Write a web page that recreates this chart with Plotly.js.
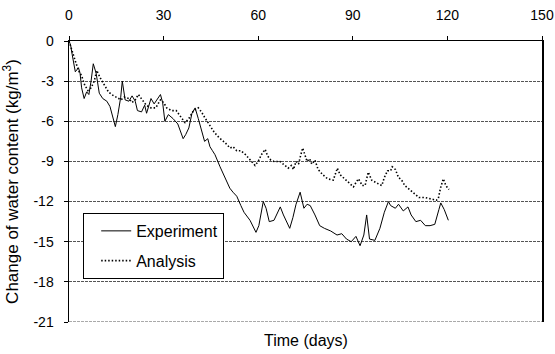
<!DOCTYPE html>
<html>
<head>
<meta charset="utf-8">
<script src="https://cdn.plot.ly/plotly-3.0.1.min.js"></script>
<style>html,body{margin:0;padding:0;background:#fff;}#chart{width:555px;height:354px;}</style>
</head>
<body>
<div id="chart"></div>
<script>
// Experiment (days, kg/m3)
var expDays = [0,0.5,1,2,3,3.5,4,4.8,5.6,6.3,7,7.7,8.6,9.6,10.7,12,13,14,14.7,15.5,16.4,16.9,17.8,19,20,21,21.7,23,24,24.6,26,27,28,29,29.7,30.4,31.5,33,34.5,36.2,37,38,39,40,41,42,43,44,44.7,45.5,46.3,47.9,49.5,51,52,53.2,54.5,55.5,57.4,58.5,59.3,60.2,61,61.6,62.5,63.5,65,65.9,67,68,69,70,71,72,73.3,74.5,75.5,76.5,78,79.5,81,83,85,86.5,88,89.5,91,92.3,93.5,94.4,95.3,97,98.6,100,101.3,102,103.5,104.5,106,107.5,108.5,110,111.5,113,114.5,116,117.3,117.9,119,120.3];
var expVals = [0,-0.3,-1.0,-2.3,-2.0,-2.4,-3.5,-4.3,-3.8,-4.0,-3.0,-1.7,-2.4,-3.9,-4.3,-4.5,-4.9,-5.8,-6.4,-5.5,-4.2,-3.0,-4.4,-4.5,-4.1,-4.5,-5.2,-5.3,-4.8,-5.4,-4.3,-4.7,-4.3,-4.0,-4.6,-6.0,-5.5,-5.8,-6.2,-7.3,-7.0,-6.5,-5.4,-5.0,-5.8,-6.7,-7.5,-7.3,-7.9,-8.2,-8.5,-9.4,-10.2,-11.0,-11.3,-11.6,-12.3,-12.8,-13.4,-14.0,-14.3,-13.8,-12.7,-12.0,-12.5,-13.5,-13.4,-13.0,-12.4,-13.0,-13.5,-14.0,-13.2,-12.2,-11.3,-12.5,-12.2,-12.3,-13.0,-13.8,-14.0,-14.2,-14.5,-14.4,-14.8,-15.0,-14.6,-15.3,-14.5,-13.0,-14.8,-14.9,-14.0,-12.8,-12.0,-12.3,-12.5,-12.2,-12.7,-12.4,-13.0,-13.5,-13.4,-13.8,-13.8,-13.7,-12.6,-12.1,-12.6,-13.4];
// Analysis (days, kg/m3)
var anaDays = [0,1,2,3,4,5,6,7,8,8.8,10,11.5,12.5,13.5,15,16.5,17.5,19,20,21,22,23,24.5,26,27.5,29,30,31,32.5,34,35,36.8,38,39.5,41,42,43,44.5,46,47.5,49.5,51.1,52,53.2,54.5,56,57.5,59,60,61,62.2,63,64,65,66.9,68,69.5,70.5,71.2,72,72.8,73.3,74.1,74.8,75.5,76.3,77,78,79,80.5,82,83.8,85.1,86,87.5,89,90.2,91.2,91.8,93,93.9,94.9,96,97.5,99.2,100,101,102,102.5,103.5,104.5,105.5,106.5,108,109.5,111,113,115,116.5,117.1,117.8,118.7,119.5,120.5];
var anaVals = [0,-0.8,-1.5,-2.2,-2.6,-3.3,-3.7,-3.5,-3.0,-2.2,-2.8,-3.4,-3.8,-4.0,-4.2,-4.4,-4.2,-4.3,-4.6,-4.4,-4.0,-4.3,-4.8,-5.0,-5.0,-4.4,-4.6,-5.0,-5.2,-5.2,-5.5,-6.1,-5.8,-5.2,-5.0,-5.3,-5.7,-6.3,-6.8,-7.2,-7.6,-8.0,-7.9,-8.2,-8.2,-8.5,-8.9,-9.3,-9.0,-8.5,-8.1,-8.6,-8.9,-9.0,-9.0,-9.2,-9.5,-9.3,-9.6,-9.0,-9.2,-8.7,-8.0,-8.5,-9.0,-8.8,-9.2,-8.9,-9.6,-10.0,-10.3,-10.4,-9.5,-10.0,-10.3,-10.6,-10.9,-10.5,-10.3,-10.8,-10.8,-9.8,-10.4,-10.6,-10.8,-10.2,-9.7,-9.7,-9.4,-9.6,-10.2,-10.4,-10.8,-11.1,-11.4,-11.7,-11.7,-11.8,-11.9,-11.8,-11.0,-10.3,-10.8,-11.1];
var xTicks = [0,30,60,90,120,150];
var yTicks = [0,-3,-6,-9,-12,-15,-18,-21];

var FONT = 'Liberation Sans, Arial, sans-serif';
var traces = [
  {x: expDays, y: expVals, name: 'Experiment', type: 'scatter', mode: 'lines', legendgroup: 'a',
   line: {color: '#000', width: 1}},
  {x: anaDays, y: anaVals, name: 'Analysis', type: 'scatter', mode: 'lines', legendgroup: 'b',
   line: {color: '#000', width: 1.6, dash: '1.5px,2px'}}
];
var layout = {
  width: 555, height: 354,
  margin: {l: 69, r: 13, t: 41, b: 32, pad: 0},
  paper_bgcolor: '#fff', plot_bgcolor: '#fff',
  font: {family: FONT, color: '#000', size: 14},
  showlegend: true,
  legend: {x: 0.03, y: 0.388, xanchor: 'left', yanchor: 'top', bgcolor: '#fff',
    bordercolor: '#000', borderwidth: 1, font: {family: FONT, size: 16, color: '#000'},
    traceorder: 'grouped', tracegroupgap: 6, indentation: 12},
  xaxis: {range: [0, 150], side: 'top', tickvals: xTicks, ticktext: xTicks.map(String),
    ticks: 'outside', ticklen: 4, tickcolor: '#000', showline: true, linecolor: '#000', linewidth: 1,
    showgrid: false, zeroline: false, mirror: false, ticklabelstandoff: 10,
    tickfont: {family: FONT, size: 14, color: '#000'}},
  yaxis: {range: [-21, 0], tickvals: yTicks, ticktext: yTicks.map(String),
    ticks: 'outside', ticklen: 4, tickcolor: '#000', showline: true, linecolor: '#000', linewidth: 1.5,
    mirror: true, showgrid: true, gridcolor: '#555', gridwidth: 1, griddash: '3px,1px',
    zeroline: false, ticklabelstandoff: 7,
    tickfont: {family: FONT, size: 14, color: '#000'},
    title: {text: 'Change of water content (kg/m<sup>3</sup>)', font: {family: FONT, size: 17, color: '#000'}, standoff: 10}},
  shapes: [
    {type: 'line', xref: 'paper', yref: 'y', x0: 0, x1: 1, y0: -21, y1: -21, layer: 'below',
     line: {color: '#555', width: 1, dash: '3px,1px'}}
  ],
  annotations: [
    {text: 'Time (days)', xref: 'paper', yref: 'paper', x: 0.5, y: -0.03, xanchor: 'center', yanchor: 'top',
     showarrow: false, font: {family: FONT, size: 16, color: '#000'}}
  ]
};
Plotly.newPlot('chart', traces, layout, {displayModeBar: false, staticPlot: true});
</script>
</body>
</html>
